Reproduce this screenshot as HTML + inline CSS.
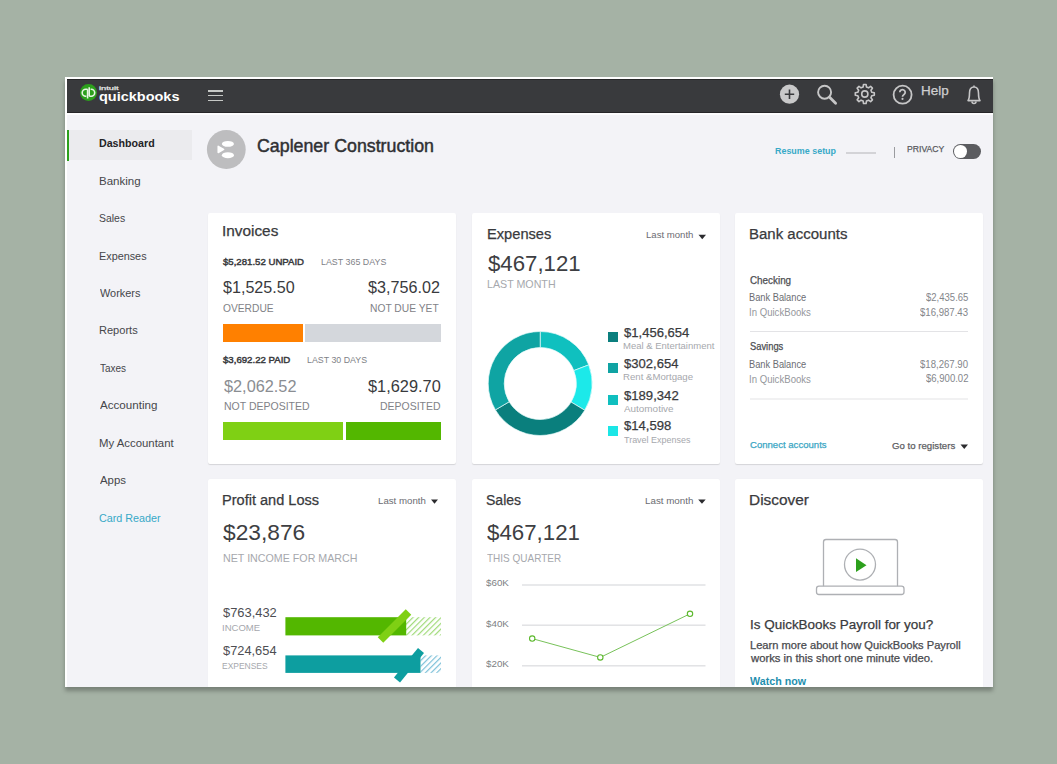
<!DOCTYPE html>
<html><head><meta charset="utf-8"><style>
html,body{margin:0;padding:0;}
body{width:1057px;height:764px;background:#a5b2a5;position:relative;overflow:hidden;font-family:"Liberation Sans",sans-serif;}
.t{position:absolute;white-space:pre;transform-origin:0 0;}
.a{position:absolute;}
.bp{display:inline-block;width:0;height:0;vertical-align:baseline;}
</style></head><body>
<!-- window shadow -->
<!-- window -->
<div class="a" style="left:65px;top:77px;width:928px;height:610px;background:#fff;box-shadow:0 3.5px 4px rgba(0,0,0,0.27);"></div>
<div class="a" style="left:67px;top:79px;width:926px;height:608px;background:#f3f3f7;"></div>
<!-- header -->
<div class="a" style="left:67px;top:79px;width:926px;height:33.5px;background:#393a3d;border-top:1px solid #262628;border-bottom:1px solid #262628;box-sizing:border-box;"></div>
<div class="a" style="left:67px;top:112.5px;width:926px;height:2px;background:#fcfcfd;"></div>
<!-- logo -->
<svg class="a" style="left:78px;top:83px" width="22" height="22" viewBox="0 0 22 22">
  <circle cx="10.5" cy="9.4" r="8.5" fill="#2ca01c"/>
  <path d="M9.6 6.2 H7.7 a3.5 3.5 0 0 0 0 7 H8.3 M9.6 6.2 V15.4" stroke="#e8f5e4" stroke-width="1.6" fill="none"/>
  <path d="M11.2 13.2 H13.2 a3.5 3.5 0 0 0 0 -7 H12.6 M11.2 13.2 V4.2" stroke="#e8f5e4" stroke-width="1.6" fill="none"/>
</svg>
<!-- hamburger -->
<div class="a" style="left:208px;top:90px;width:15px;height:1.7px;background:#c6c8c6"></div>
<div class="a" style="left:208px;top:94.8px;width:15px;height:1.7px;background:#c6c8c6"></div>
<div class="a" style="left:208px;top:99.6px;width:15px;height:1.7px;background:#c6c8c6"></div>
<!-- header icons -->
<svg class="a" style="left:770px;top:79px" width="223" height="33" viewBox="770 79 223 33">
  <circle cx="789.5" cy="94.2" r="9.6" fill="#c9c9ca"/>
  <path d="M784.8 94.2 H794.2 M789.5 89.5 V98.9" stroke="#393a3d" stroke-width="1.6"/>
  <circle cx="824.6" cy="92.2" r="6.5" stroke="#c6c6c7" stroke-width="1.9" fill="none"/>
  <path d="M829.6 97.3 L835.6 103.2" stroke="#c6c6c7" stroke-width="2.8" stroke-linecap="round"/>
  <g transform="translate(864.8 94)" stroke="#c6c6c7" stroke-width="1.6" fill="none">
    <path id="gear" d="M-1.68 -7.00 L-1.28 -9.51 L1.28 -9.51 L1.68 -7.00 L3.76 -6.14 L5.82 -7.63 L7.63 -5.82 L6.14 -3.76 L7.00 -1.68 L9.51 -1.28 L9.51 1.28 L7.00 1.68 L6.14 3.76 L7.63 5.82 L5.82 7.63 L3.76 6.14 L1.68 7.00 L1.28 9.51 L-1.28 9.51 L-1.68 7.00 L-3.76 6.14 L-5.82 7.63 L-7.63 5.82 L-6.14 3.76 L-7.00 1.68 L-9.51 1.28 L-9.51 -1.28 L-7.00 -1.68 L-6.14 -3.76 L-7.63 -5.82 L-5.82 -7.63 L-3.76 -6.14 Z" stroke-linejoin="round"/>
    <circle r="3.1"/>
  </g>
  <circle cx="902.6" cy="94.7" r="9" stroke="#c6c6c7" stroke-width="1.8" fill="none"/>
  <path d="M899.8 92.3 a2.7 2.6 0 1 1 4.2 2.1 c-1.1 0.7 -1.5 1.2 -1.5 2.4" stroke="#c6c6c7" stroke-width="1.8" fill="none"/>
  <circle cx="902.5" cy="98.9" r="1.05" fill="#c6c6c7"/>
  <path d="M974 85.5 V86.8 M968 100.6 C969.5 98.5 969.5 96.5 969.5 93 C969.5 89.5 971.2 87 974 87 C976.8 87 978.5 89.5 978.5 93 C978.5 96.5 978.5 98.5 980 100.6 Z" stroke="#c6c6c7" stroke-width="1.6" fill="none" stroke-linejoin="round"/>
  <path d="M972 101.5 a2 2 0 0 0 4 0" stroke="#c6c6c7" stroke-width="1.6" fill="none"/>
</svg>
<!-- sidebar highlight -->
<div class="a" style="left:67px;top:130px;width:125px;height:30px;background:#ebebee"></div>
<div class="a" style="left:67px;top:130px;width:2px;height:30.5px;background:#2ca01c"></div>
<!-- company avatar -->
<svg class="a" style="left:206px;top:130px" width="41" height="40" viewBox="0 0 41 40">
  <circle cx="20.3" cy="19.5" r="19.4" fill="#bdbdbf"/>
  <ellipse cx="21.9" cy="13.9" rx="6.05" ry="2.9" fill="#fff"/>
  <ellipse cx="21.9" cy="25.2" rx="6.05" ry="3" fill="#fff"/>
  <path d="M12.2 16.3 L17.6 19.4 L12.2 22.5 Z" fill="#fff" stroke="#fff" stroke-width="1.5" stroke-linejoin="round"/>
</svg>
<!-- resume setup progress -->
<div class="a" style="left:846px;top:152px;width:30px;height:1.5px;background:#d3d3d7"></div>
<div class="a" style="left:894px;top:147px;width:1px;height:11px;background:#9a9b9f"></div>
<!-- toggle -->
<div class="a" style="left:952.8px;top:144px;width:28.3px;height:15.3px;border-radius:8px;background:#5b5c60"></div>
<div class="a" style="left:954px;top:145.4px;width:12.8px;height:12.8px;border-radius:50%;background:#fff"></div>
<!-- cards -->
<div class="a" style="left:208px;top:213px;width:248px;height:250.5px;background:#fff;border-radius:2px;box-shadow:0 1px 1px rgba(0,0,0,0.13)"></div>
<div class="a" style="left:471.5px;top:213px;width:248px;height:250.5px;background:#fff;border-radius:2px;box-shadow:0 1px 1px rgba(0,0,0,0.13)"></div>
<div class="a" style="left:735px;top:213px;width:248px;height:250.5px;background:#fff;border-radius:2px;box-shadow:0 1px 1px rgba(0,0,0,0.13)"></div>
<div class="a" style="left:208px;top:478.5px;width:248px;height:208.5px;background:#fff;border-radius:2px 2px 0 0;box-shadow:0 0 1px rgba(0,0,0,0.05)"></div>
<div class="a" style="left:471.5px;top:478.5px;width:248px;height:208.5px;background:#fff;border-radius:2px 2px 0 0;box-shadow:0 0 1px rgba(0,0,0,0.05)"></div>
<div class="a" style="left:735px;top:478.5px;width:248px;height:208.5px;background:#fff;border-radius:2px 2px 0 0;box-shadow:0 0 1px rgba(0,0,0,0.05)"></div>
<!-- invoice bars -->
<div class="a" style="left:223px;top:324px;width:80px;height:17.5px;background:#ff8000"></div>
<div class="a" style="left:305px;top:324px;width:136px;height:17.5px;background:#d4d7dc"></div>
<div class="a" style="left:222.5px;top:422px;width:120.5px;height:17.5px;background:#7fd014"></div>
<div class="a" style="left:345.5px;top:422px;width:95px;height:17.5px;background:#53b700"></div>
<!-- donut -->
<svg class="a" style="left:470px;top:300px" width="140" height="160" viewBox="470 300 140 160" id="donut"><path d="M540.20 331.50 A52 52 0 0 1 588.75 364.86 L573.81 370.60 A36 36 0 0 0 540.20 347.50 Z" fill="#0fc0bf" stroke="#e8fbfb" stroke-width="0.7"/><path d="M588.75 364.86 A52 52 0 0 1 584.77 410.28 L571.06 402.04 A36 36 0 0 0 573.81 370.60 Z" fill="#1ce9e9" stroke="#e8fbfb" stroke-width="0.7"/><path d="M584.77 410.28 A52 52 0 0 1 495.40 409.89 L509.18 401.77 A36 36 0 0 0 571.06 402.04 Z" fill="#0a7f7d" stroke="#e8fbfb" stroke-width="0.7"/><path d="M495.40 409.89 A52 52 0 0 1 540.20 331.50 L540.20 347.50 A36 36 0 0 0 509.18 401.77 Z" fill="#0fa4a3" stroke="#e8fbfb" stroke-width="0.7"/></svg>
<!-- legend squares -->
<div class="a" style="left:608px;top:331.5px;width:9.5px;height:10px;background:#0b7f7e"></div>
<div class="a" style="left:608px;top:362.5px;width:9.5px;height:10px;background:#0fa3a3"></div>
<div class="a" style="left:608px;top:394.5px;width:9.5px;height:10px;background:#10bfbf"></div>
<div class="a" style="left:608px;top:425.5px;width:9.5px;height:10px;background:#1be6e6"></div>
<!-- triangles -->
<svg class="a" style="left:0;top:0" width="1057" height="764" viewBox="0 0 1057 764">
  <path d="M698.5 234.8 H706 L702.25 239.2 Z" fill="#2b2b2e"/>
  <path d="M960.5 444.6 H968 L964.25 449 Z" fill="#2b2b2e"/>
  <path d="M431 499.5 H438 L434.5 503.8 Z" fill="#2b2b2e"/>
  <path d="M698.2 499.5 H705.7 L701.95 503.8 Z" fill="#2b2b2e"/>
  <!-- bank dividers -->
  <rect x="750" y="331" width="218" height="1" fill="#e3e3e6"/>
  <rect x="750" y="398.5" width="218" height="1" fill="#e3e3e6"/>
  <!-- P&L bars -->
  <defs>
    <pattern id="hg" patternUnits="userSpaceOnUse" width="4" height="4" patternTransform="rotate(45)">
      <rect width="1.2" height="4" fill="#9fda78"/>
    </pattern>
    <pattern id="hb" patternUnits="userSpaceOnUse" width="4" height="4" patternTransform="rotate(45)">
      <rect width="1.2" height="4" fill="#7cc0d8"/>
    </pattern>
    <clipPath id="clipcard"><rect x="208" y="479" width="248" height="208"/></clipPath>
  </defs>
  <rect x="406" y="617.2" width="35" height="18.2" fill="url(#hg)"/>
  <rect x="285.4" y="617.2" width="120.8" height="18.2" fill="#53b700"/>
  <path d="M380.5 640 L408.5 612" stroke="#7fd014" stroke-width="7.8"/>
  <rect x="420.5" y="655.4" width="20.5" height="17.5" fill="url(#hb)"/>
  <path d="M397 680 L421 650.5" stroke="#0d9ea0" stroke-width="7.8"/>
  <rect x="285.4" y="655.4" width="135.1" height="17.5" fill="#0d9ea0"/>
  <!-- sales grid -->
  <rect x="522" y="584.3" width="183.5" height="1.4" fill="#dfe0e3"/>
  <rect x="522" y="624.5" width="183.5" height="1.4" fill="#dfe0e3"/>
  <rect x="522" y="665.1" width="183.5" height="1.4" fill="#dfe0e3"/>
  <polyline points="532.2,638.6 600.3,657.4 690,613.8" stroke="#78c25a" stroke-width="1" fill="none"/>
  <circle cx="532.2" cy="638.6" r="2.7" fill="#fff" stroke="#5cb82c" stroke-width="1.1"/>
  <circle cx="600.3" cy="657.4" r="2.7" fill="#fff" stroke="#5cb82c" stroke-width="1.1"/>
  <circle cx="690" cy="613.8" r="2.7" fill="#fff" stroke="#5cb82c" stroke-width="1.1"/>
  <!-- discover laptop -->
  <path d="M823.5 587 V542 a2.5 2.5 0 0 1 2.5 -2.5 H895 a2.5 2.5 0 0 1 2.5 2.5 V587" stroke="#aeb0b4" stroke-width="1.3" fill="none"/>
  <rect x="816.5" y="586.2" width="87.5" height="8.3" rx="2.5" stroke="#aeb0b4" stroke-width="1.3" fill="#fff"/>
  <circle cx="860" cy="564.6" r="15.5" stroke="#aeb0b4" stroke-width="1.3" fill="none"/>
  <path d="M856 558.3 L866.5 565.2 L856 572 Z" fill="#2ca01c"/>
</svg>

<div class="t" id="t0" style="left:99.32px;top:83.51px;font-size:13.20px;line-height:26.40px;font-weight:700;color:#fff;transform:scaleX(1.0983);"><i class="bp"></i>quickbooks</div>
<div class="t" id="t1" style="left:99.15px;top:81.91px;font-size:6.20px;line-height:12.40px;font-weight:400;color:#e6e6e6;transform:scaleX(1.5022);-webkit-text-stroke:0.25px currentColor;"><i class="bp"></i>intuit</div>
<div class="t" id="t2" style="left:920.92px;top:79.00px;font-size:12.65px;line-height:25.29px;font-weight:400;color:#cfcfd0;transform:scaleX(1.0653);-webkit-text-stroke:0.25px currentColor;"><i class="bp"></i>Help</div>
<div class="t" id="t3" style="left:256.81px;top:129.01px;font-size:17.73px;line-height:35.47px;font-weight:400;color:#2f3033;transform:scaleX(1.0040);-webkit-text-stroke:0.45px currentColor;"><i class="bp"></i>Caplener Construction</div>
<div class="t" id="t4" style="left:774.58px;top:140.71px;font-size:9.74px;line-height:19.48px;font-weight:700;color:#37a9c7;transform:scaleX(0.9168);"><i class="bp"></i>Resume setup</div>
<div class="t" id="t5" style="left:907.21px;top:139.20px;font-size:9.59px;line-height:19.19px;font-weight:400;color:#58595d;transform:scaleX(0.9013);-webkit-text-stroke:0.25px currentColor;"><i class="bp"></i>PRIVACY</div>
<div class="t" id="t6" style="left:98.95px;top:132.22px;font-size:11.48px;line-height:22.97px;font-weight:700;color:#232326;transform:scaleX(0.9291);"><i class="bp"></i>Dashboard</div>
<div class="t" id="t7" style="left:98.78px;top:169.65px;font-size:11.48px;line-height:22.97px;font-weight:400;color:#45464a;transform:scaleX(1.0039);"><i class="bp"></i>Banking</div>
<div class="t" id="t8" style="left:99.18px;top:207.09px;font-size:11.48px;line-height:22.97px;font-weight:400;color:#45464a;transform:scaleX(0.9105);"><i class="bp"></i>Sales</div>
<div class="t" id="t9" style="left:98.83px;top:244.54px;font-size:11.48px;line-height:22.97px;font-weight:400;color:#45464a;transform:scaleX(0.9441);"><i class="bp"></i>Expenses</div>
<div class="t" id="t10" style="left:99.59px;top:281.97px;font-size:11.48px;line-height:22.97px;font-weight:400;color:#45464a;transform:scaleX(0.9518);"><i class="bp"></i>Workers</div>
<div class="t" id="t11" style="left:98.82px;top:319.41px;font-size:11.48px;line-height:22.97px;font-weight:400;color:#45464a;transform:scaleX(0.9634);"><i class="bp"></i>Reports</div>
<div class="t" id="t12" style="left:99.50px;top:356.86px;font-size:11.48px;line-height:22.97px;font-weight:400;color:#45464a;transform:scaleX(0.8709);"><i class="bp"></i>Taxes</div>
<div class="t" id="t13" style="left:99.70px;top:394.28px;font-size:11.48px;line-height:22.97px;font-weight:400;color:#45464a;transform:scaleX(1.0119);"><i class="bp"></i>Accounting</div>
<div class="t" id="t14" style="left:98.79px;top:431.73px;font-size:11.48px;line-height:22.97px;font-weight:400;color:#45464a;transform:scaleX(0.9920);"><i class="bp"></i>My Accountant</div>
<div class="t" id="t15" style="left:99.70px;top:469.17px;font-size:11.48px;line-height:22.97px;font-weight:400;color:#45464a;transform:scaleX(0.9953);"><i class="bp"></i>Apps</div>
<div class="t" id="t16" style="left:99.16px;top:506.60px;font-size:11.48px;line-height:22.97px;font-weight:400;color:#37a9c7;transform:scaleX(0.9386);"><i class="bp"></i>Card Reader</div>
<div class="t" id="t17" style="left:222.02px;top:217.31px;font-size:14.53px;line-height:29.07px;font-weight:400;color:#393a3d;transform:scaleX(1.0573);-webkit-text-stroke:0.25px currentColor;"><i class="bp"></i>Invoices</div>
<div class="t" id="t18" style="left:223.30px;top:252.31px;font-size:9.59px;line-height:19.19px;font-weight:400;color:#393a3d;transform:scaleX(1.0038);-webkit-text-stroke:0.45px currentColor;"><i class="bp"></i>$5,281.52 UNPAID</div>
<div class="t" id="t19" style="left:321.29px;top:252.21px;font-size:9.74px;line-height:19.48px;font-weight:400;color:#7f8287;transform:scaleX(0.9132);"><i class="bp"></i>LAST 365 DAYS</div>
<div class="t" id="t20" style="left:223.24px;top:271.01px;font-size:16.42px;line-height:32.85px;font-weight:400;color:#393a3d;transform:scaleX(0.9825);"><i class="bp"></i>$1,525.50</div>
<div class="t" id="t21" style="left:368.34px;top:271.01px;font-size:16.42px;line-height:32.85px;font-weight:400;color:#393a3d;transform:scaleX(0.9847);"><i class="bp"></i>$3,756.02</div>
<div class="t" id="t22" style="left:222.89px;top:298.81px;font-size:10.17px;line-height:20.35px;font-weight:400;color:#7f8287;transform:scaleX(1.0072);"><i class="bp"></i>OVERDUE</div>
<div class="t" id="t23" style="left:370.18px;top:298.91px;font-size:10.17px;line-height:20.35px;font-weight:400;color:#7f8287;transform:scaleX(1.0112);"><i class="bp"></i>NOT DUE YET</div>
<div class="t" id="t24" style="left:223.10px;top:351.30px;font-size:9.45px;line-height:18.90px;font-weight:400;color:#393a3d;transform:scaleX(1.0203);-webkit-text-stroke:0.45px currentColor;"><i class="bp"></i>$3,692.22 PAID</div>
<div class="t" id="t25" style="left:307.09px;top:350.30px;font-size:9.74px;line-height:19.48px;font-weight:400;color:#7f8287;transform:scaleX(0.9083);"><i class="bp"></i>LAST 30 DAYS</div>
<div class="t" id="t26" style="left:224.44px;top:369.70px;font-size:16.42px;line-height:32.85px;font-weight:400;color:#8a8d92;transform:scaleX(0.9930);"><i class="bp"></i>$2,062.52</div>
<div class="t" id="t27" style="left:367.84px;top:369.61px;font-size:16.42px;line-height:32.85px;font-weight:400;color:#393a3d;transform:scaleX(0.9963);"><i class="bp"></i>$1,629.70</div>
<div class="t" id="t28" style="left:223.76px;top:397.21px;font-size:10.17px;line-height:20.35px;font-weight:400;color:#7f8287;transform:scaleX(1.0343);"><i class="bp"></i>NOT DEPOSITED</div>
<div class="t" id="t29" style="left:379.86px;top:397.21px;font-size:10.17px;line-height:20.35px;font-weight:400;color:#7f8287;transform:scaleX(1.0316);"><i class="bp"></i>DEPOSITED</div>
<div class="t" id="t30" style="left:486.63px;top:219.01px;font-size:14.97px;line-height:29.94px;font-weight:400;color:#393a3d;transform:scaleX(0.9785);-webkit-text-stroke:0.25px currentColor;"><i class="bp"></i>Expenses</div>
<div class="t" id="t31" style="left:646.13px;top:226.41px;font-size:9.30px;line-height:18.60px;font-weight:400;color:#6b6c72;transform:scaleX(1.0302);"><i class="bp"></i>Last month</div>
<div class="t" id="t32" style="left:487.88px;top:242.00px;font-size:21.80px;line-height:43.60px;font-weight:400;color:#3d3e42;transform:scaleX(1.0189);"><i class="bp"></i>$467,121</div>
<div class="t" id="t33" style="left:486.95px;top:275.11px;font-size:10.03px;line-height:20.06px;font-weight:400;color:#a6a8ad;transform:scaleX(1.0655);"><i class="bp"></i>LAST MONTH</div>
<div class="t" id="t34" style="left:624.07px;top:319.70px;font-size:13.08px;line-height:26.16px;font-weight:400;color:#393a3d;transform:scaleX(0.9987);-webkit-text-stroke:0.25px currentColor;"><i class="bp"></i>$1,456,654</div>
<div class="t" id="t35" style="left:623.44px;top:336.41px;font-size:9.59px;line-height:19.19px;font-weight:400;color:#a6a8ad;transform:scaleX(0.9921);"><i class="bp"></i>Meal &amp; Entertainment</div>
<div class="t" id="t36" style="left:624.07px;top:350.70px;font-size:13.08px;line-height:26.16px;font-weight:400;color:#393a3d;transform:scaleX(0.9977);-webkit-text-stroke:0.25px currentColor;"><i class="bp"></i>$302,654</div>
<div class="t" id="t37" style="left:623.43px;top:367.20px;font-size:9.59px;line-height:19.19px;font-weight:400;color:#a6a8ad;transform:scaleX(1.0046);"><i class="bp"></i>Rent &amp;Mortgage</div>
<div class="t" id="t38" style="left:624.07px;top:382.51px;font-size:13.08px;line-height:26.16px;font-weight:400;color:#393a3d;transform:scaleX(1.0025);-webkit-text-stroke:0.25px currentColor;"><i class="bp"></i>$189,342</div>
<div class="t" id="t39" style="left:624.20px;top:399.10px;font-size:9.59px;line-height:19.19px;font-weight:400;color:#a6a8ad;transform:scaleX(1.0340);"><i class="bp"></i>Automotive</div>
<div class="t" id="t40" style="left:624.07px;top:413.30px;font-size:13.08px;line-height:26.16px;font-weight:400;color:#393a3d;transform:scaleX(1.0006);-webkit-text-stroke:0.25px currentColor;"><i class="bp"></i>$14,598</div>
<div class="t" id="t41" style="left:624.02px;top:429.70px;font-size:9.59px;line-height:19.19px;font-weight:400;color:#a6a8ad;transform:scaleX(0.9361);"><i class="bp"></i>Travel Expenses</div>
<div class="t" id="t42" style="left:749.20px;top:220.01px;font-size:14.83px;line-height:29.65px;font-weight:400;color:#393a3d;transform:scaleX(1.0118);-webkit-text-stroke:0.25px currentColor;"><i class="bp"></i>Bank accounts</div>
<div class="t" id="t43" style="left:749.51px;top:270.50px;font-size:10.17px;line-height:20.35px;font-weight:400;color:#4d4e52;transform:scaleX(0.9707);-webkit-text-stroke:0.25px currentColor;"><i class="bp"></i>Checking</div>
<div class="t" id="t44" style="left:749.26px;top:288.00px;font-size:10.17px;line-height:20.35px;font-weight:400;color:#6b6c72;transform:scaleX(0.9130);"><i class="bp"></i>Bank Balance</div>
<div class="t" id="t45" style="left:749.13px;top:302.81px;font-size:10.17px;line-height:20.35px;font-weight:400;color:#95979c;transform:scaleX(0.9455);"><i class="bp"></i>In QuickBooks</div>
<div class="t" id="t46" style="left:925.90px;top:287.81px;font-size:10.17px;line-height:20.35px;font-weight:400;color:#84868b;transform:scaleX(0.9382);"><i class="bp"></i>$2,435.65</div>
<div class="t" id="t47" style="left:920.30px;top:302.71px;font-size:10.17px;line-height:20.35px;font-weight:400;color:#84868b;transform:scaleX(0.9451);"><i class="bp"></i>$16,987.43</div>
<div class="t" id="t48" style="left:749.53px;top:336.81px;font-size:10.17px;line-height:20.35px;font-weight:400;color:#4d4e52;transform:scaleX(0.9205);-webkit-text-stroke:0.25px currentColor;"><i class="bp"></i>Savings</div>
<div class="t" id="t49" style="left:749.26px;top:355.10px;font-size:10.17px;line-height:20.35px;font-weight:400;color:#6b6c72;transform:scaleX(0.9130);"><i class="bp"></i>Bank Balance</div>
<div class="t" id="t50" style="left:749.13px;top:369.81px;font-size:10.17px;line-height:20.35px;font-weight:400;color:#95979c;transform:scaleX(0.9455);"><i class="bp"></i>In QuickBooks</div>
<div class="t" id="t51" style="left:920.30px;top:354.60px;font-size:10.17px;line-height:20.35px;font-weight:400;color:#84868b;transform:scaleX(0.9451);"><i class="bp"></i>$18,267.90</div>
<div class="t" id="t52" style="left:925.90px;top:369.41px;font-size:10.17px;line-height:20.35px;font-weight:400;color:#84868b;transform:scaleX(0.9403);"><i class="bp"></i>$6,900.02</div>
<div class="t" id="t53" style="left:749.52px;top:435.30px;font-size:9.74px;line-height:19.48px;font-weight:400;color:#3aa6c4;transform:scaleX(0.9828);-webkit-text-stroke:0.25px currentColor;"><i class="bp"></i>Connect accounts</div>
<div class="t" id="t54" style="left:892.02px;top:435.70px;font-size:9.88px;line-height:19.77px;font-weight:400;color:#5d5e63;transform:scaleX(0.9758);-webkit-text-stroke:0.25px currentColor;"><i class="bp"></i>Go to registers</div>
<div class="t" id="t55" style="left:222.43px;top:485.51px;font-size:14.53px;line-height:29.07px;font-weight:400;color:#393a3d;transform:scaleX(1.0021);-webkit-text-stroke:0.25px currentColor;"><i class="bp"></i>Profit and Loss</div>
<div class="t" id="t56" style="left:377.73px;top:491.70px;font-size:9.30px;line-height:18.60px;font-weight:400;color:#6b6c72;transform:scaleX(1.0414);"><i class="bp"></i>Last month</div>
<div class="t" id="t57" style="left:223.37px;top:512.31px;font-size:21.51px;line-height:43.02px;font-weight:400;color:#3d3e42;transform:scaleX(1.0577);"><i class="bp"></i>$23,876</div>
<div class="t" id="t58" style="left:222.74px;top:548.60px;font-size:10.17px;line-height:20.35px;font-weight:400;color:#a6a8ad;transform:scaleX(1.0516);"><i class="bp"></i>NET INCOME FOR MARCH</div>
<div class="t" id="t59" style="left:222.87px;top:600.20px;font-size:13.08px;line-height:26.16px;font-weight:400;color:#4d4e52;transform:scaleX(0.9858);"><i class="bp"></i>$763,432</div>
<div class="t" id="t60" style="left:222.14px;top:617.91px;font-size:9.59px;line-height:19.19px;font-weight:400;color:#a6a8ad;transform:scaleX(0.9966);"><i class="bp"></i>INCOME</div>
<div class="t" id="t61" style="left:222.87px;top:638.41px;font-size:13.08px;line-height:26.16px;font-weight:400;color:#4d4e52;transform:scaleX(0.9810);"><i class="bp"></i>$724,654</div>
<div class="t" id="t62" style="left:222.32px;top:656.00px;font-size:9.59px;line-height:19.19px;font-weight:400;color:#a6a8ad;transform:scaleX(0.8842);"><i class="bp"></i>EXPENSES</div>
<div class="t" id="t63" style="left:486.10px;top:485.51px;font-size:14.53px;line-height:29.07px;font-weight:400;color:#393a3d;transform:scaleX(0.9666);-webkit-text-stroke:0.25px currentColor;"><i class="bp"></i>Sales</div>
<div class="t" id="t64" style="left:644.82px;top:491.70px;font-size:9.30px;line-height:18.60px;font-weight:400;color:#6b6c72;transform:scaleX(1.0526);"><i class="bp"></i>Last month</div>
<div class="t" id="t65" style="left:487.38px;top:512.31px;font-size:21.51px;line-height:43.02px;font-weight:400;color:#3d3e42;transform:scaleX(1.0360);"><i class="bp"></i>$467,121</div>
<div class="t" id="t66" style="left:487.00px;top:548.60px;font-size:10.17px;line-height:20.35px;font-weight:400;color:#a6a8ad;transform:scaleX(0.9829);"><i class="bp"></i>THIS QUARTER</div>
<div class="t" id="t67" style="left:486.30px;top:573.30px;font-size:9.74px;line-height:19.48px;font-weight:400;color:#7d7f84;transform:scaleX(1.0046);"><i class="bp"></i>$60K</div>
<div class="t" id="t68" style="left:486.30px;top:613.80px;font-size:9.74px;line-height:19.48px;font-weight:400;color:#7d7f84;transform:scaleX(1.0046);"><i class="bp"></i>$40K</div>
<div class="t" id="t69" style="left:486.30px;top:654.21px;font-size:9.74px;line-height:19.48px;font-weight:400;color:#7d7f84;transform:scaleX(1.0046);"><i class="bp"></i>$20K</div>
<div class="t" id="t70" style="left:748.87px;top:485.72px;font-size:14.53px;line-height:29.07px;font-weight:400;color:#393a3d;transform:scaleX(1.0620);-webkit-text-stroke:0.25px currentColor;"><i class="bp"></i>Discover</div>
<div class="t" id="t71" style="left:749.69px;top:610.60px;font-size:13.52px;line-height:27.03px;font-weight:400;color:#393a3d;transform:scaleX(0.9959);-webkit-text-stroke:0.25px currentColor;"><i class="bp"></i>Is QuickBooks Payroll for you?</div>
<div class="t" id="t72" style="left:749.91px;top:636.00px;font-size:10.17px;line-height:20.35px;font-weight:400;color:#4a4b4f;transform:scaleX(1.0947);-webkit-text-stroke:0.25px currentColor;"><i class="bp"></i>Learn more about how QuickBooks Payroll</div>
<div class="t" id="t73" style="left:750.80px;top:649.00px;font-size:10.17px;line-height:20.35px;font-weight:400;color:#4a4b4f;transform:scaleX(1.1094);-webkit-text-stroke:0.25px currentColor;"><i class="bp"></i>works in this short one minute video.</div>
<div class="t" id="t74" style="left:750.00px;top:671.71px;font-size:10.47px;line-height:20.93px;font-weight:700;color:#1f8fae;transform:scaleX(1.0212);"><i class="bp"></i>Watch now</div>
</body></html>
